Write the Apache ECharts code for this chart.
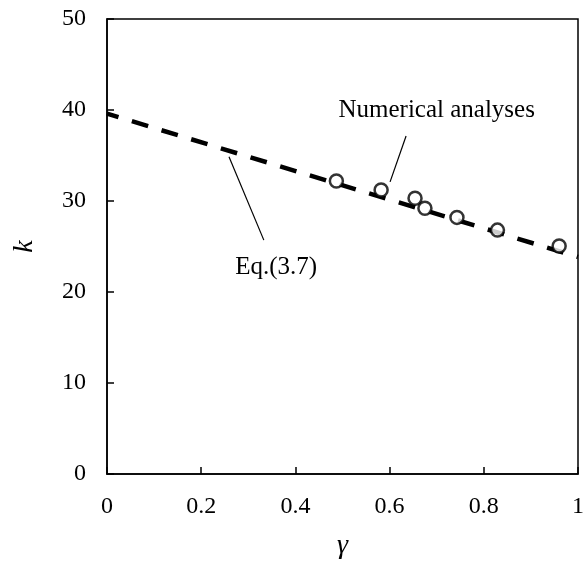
<!DOCTYPE html>
<html>
<head>
<meta charset="utf-8">
<script src="https://cdn.jsdelivr.net/npm/echarts@6/dist/echarts.min.js"></script>
<style>html,body{margin:0;padding:0;background:#fff;}#c{width:587px;height:565px;}</style>
</head>
<body>
<div id="c"></div>
<script>
// Data
const gammaPts = [0.487, 0.582, 0.654, 0.675, 0.743, 0.829, 0.960];
const kPts = [32.2, 31.2, 30.3, 29.2, 28.2, 26.8, 25.05];
const eqGamma = [0, 1];
const eqK = [39.6, 23.85];
const xTicks = [0, 0.2, 0.4, 0.6, 0.8, 1];
const yTicks = [0, 10, 20, 30, 40, 50];
const annNumText = 'Numerical analyses';
const annEqText = 'Eq.(3.7)';
const annNumLeader = [[0.635, 37.15], [0.601, 32.1]];
const annEqLeader = [[0.259, 34.86], [0.333, 25.7]];
const annNumPos = [0.700, 40.0];
const annEqPos = [0.359, 22.66];

const FONT = '"Liberation Serif", "Times New Roman", serif';
const chart = echarts.init(document.getElementById('c'), null, {renderer: 'canvas'});

const option = {
  animation: false,
  backgroundColor: '#fff',
  grid: {left: 107, right: 6, top: 19, bottom: 87, show: true, borderColor: '#000', borderWidth: 1.5},
  xAxis: {
    type: 'value', min: 0, max: 1, interval: 0.2,
    name: 'γ', nameLocation: 'middle', nameGap: 58,
    nameTextStyle: {fontFamily: FONT, fontStyle: 'italic', fontSize: 28, color: '#000'},
    axisLine: {show: true, onZero: false, lineStyle: {color: '#000', width: 1.5}},
    axisTick: {show: true, inside: true, length: 7, lineStyle: {color: '#000', width: 1.5}},
    splitLine: {show: false},
    axisLabel: {fontFamily: FONT, fontSize: 24, color: '#000', margin: 21,
      formatter: v => { const t = xTicks.find(x => Math.abs(x - v) < 1e-9); return t === undefined ? '' : String(t); }}
  },
  yAxis: {
    type: 'value', min: 0, max: 50, interval: 10,
    name: 'k', nameLocation: 'middle', nameGap: 68,
    nameTextStyle: {fontFamily: FONT, fontStyle: 'italic', fontSize: 28, color: '#000'},
    axisLine: {show: true, lineStyle: {color: '#000', width: 1.5}},
    axisTick: {show: true, inside: true, length: 7, lineStyle: {color: '#000', width: 1.5}},
    splitLine: {show: false},
    axisLabel: {fontFamily: FONT, fontSize: 24, color: '#000', margin: 21,
      formatter: v => { const t = yTicks.find(y => Math.abs(y - v) < 1e-9); return t === undefined ? '' : String(t); }}
  },
  series: [
    {
      type: 'line', name: 'Eq.(3.7)',
      data: eqGamma.map((g, i) => [g, eqK[i]]),
      showSymbol: false, symbol: 'none',
      lineStyle: {color: '#000', width: 4.5, type: [17, 14], dashOffset: 5, cap: 'butt'},
      z: 2,
      markLine: {
        silent: true, symbol: ['none', 'none'], animation: false,
        label: {show: false},
        lineStyle: {color: '#000', width: 1.2, type: 'solid'},
        data: [
          [{coord: annNumLeader[0]}, {coord: annNumLeader[1]}],
          [{coord: annEqLeader[0]}, {coord: annEqLeader[1]}]
        ]
      },
      markPoint: {
        silent: true, symbol: 'circle', symbolSize: 0, animation: false,
        label: {show: true, position: 'inside', fontFamily: FONT, fontSize: 25, color: '#000', formatter: p => p.name},
        data: [
          {name: annNumText, coord: annNumPos},
          {name: annEqText, coord: annEqPos}
        ]
      }
    },
    {
      type: 'scatter', name: 'Numerical analyses',
      data: gammaPts.map((g, i) => [g, kPts[i]]),
      symbol: 'circle', symbolSize: 13,
      itemStyle: {color: '#fff', borderColor: '#000', borderWidth: 2.5},
      z: 3
    }
  ]
};
chart.setOption(option);
</script>
</body>
</html>
